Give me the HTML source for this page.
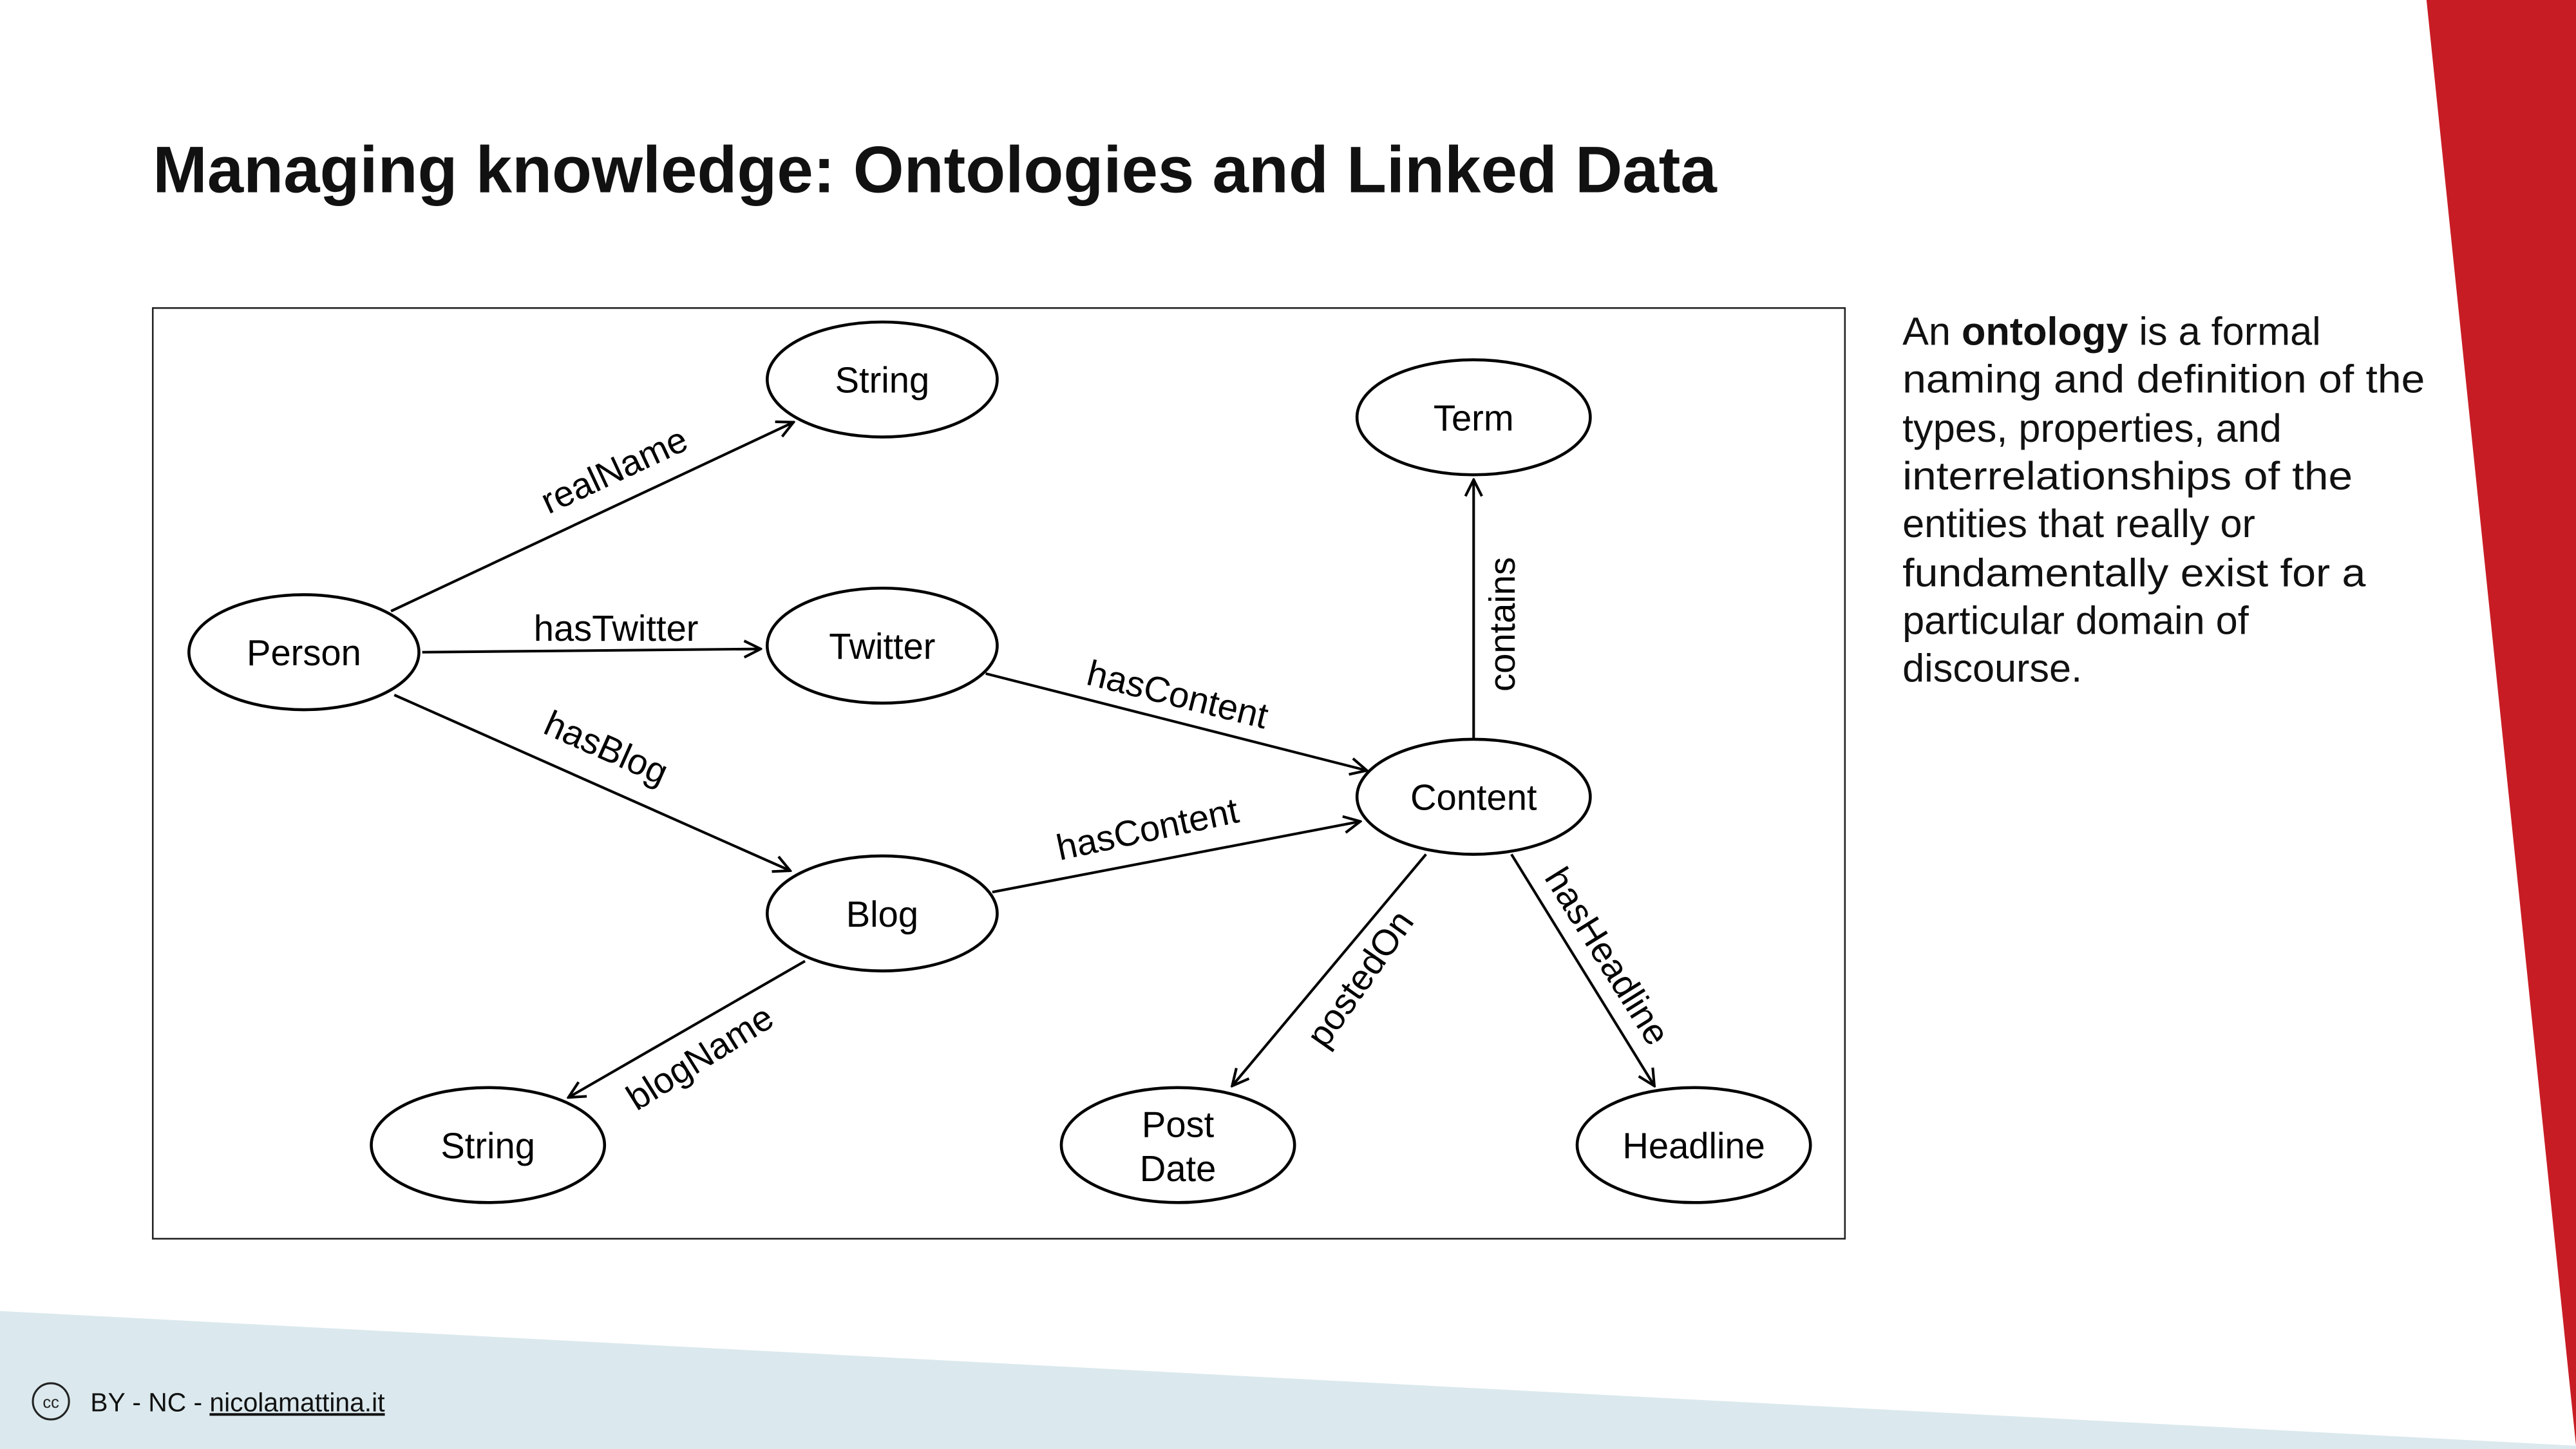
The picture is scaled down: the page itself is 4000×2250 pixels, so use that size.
<!DOCTYPE html>
<html><head><meta charset="utf-8"><style>html,body{margin:0;padding:0;background:#fff}svg{display:block}</style></head>
<body>
<svg width="4000" height="2250" viewBox="0 0 1568 882" preserveAspectRatio="none" xmlns="http://www.w3.org/2000/svg" font-family="Liberation Sans, sans-serif">
<defs><marker id="a" markerWidth="12" markerHeight="12" refX="11" refY="6" orient="auto" markerUnits="userSpaceOnUse"><path d="M1,1 L11,6 L1,11" fill="none" stroke="#000" stroke-width="1.6"/></marker></defs>
<rect width="1568" height="882" fill="#fff"/>
<polygon points="0,798 1568,880 1568,882 0,882" fill="#dbe9ee"/>
<polygon points="1477,0 1568,0 1568,880" fill="#c81c24"/>
<text x="93" y="117" font-size="40" font-weight="bold" textLength="952" lengthAdjust="spacingAndGlyphs" fill="#111">Managing knowledge: Ontologies and Linked Data</text>
<g font-size="24" fill="#111">
<text x="1158" y="210">An <tspan font-weight="bold">ontology</tspan> is a formal</text>
<text x="1158" y="239" textLength="318" lengthAdjust="spacingAndGlyphs">naming and definition of the</text>
<text x="1158" y="269">types, properties, and</text>
<text x="1158" y="298" textLength="274" lengthAdjust="spacingAndGlyphs">interrelationships of the</text>
<text x="1158" y="327">entities that really or</text>
<text x="1158" y="357" textLength="282" lengthAdjust="spacingAndGlyphs">fundamentally exist for a</text>
<text x="1158" y="386">particular domain of</text>
<text x="1158" y="415">discourse.</text>
</g>
<rect x="93" y="187.5" width="1030" height="566.5" fill="#fff" stroke="#222" stroke-width="1"/>
<g fill="none" stroke="#000" stroke-width="1.8">
<ellipse cx="185" cy="397" rx="70" ry="35"/>
<ellipse cx="537" cy="231" rx="70" ry="35"/>
<ellipse cx="537" cy="393" rx="70" ry="35"/>
<ellipse cx="897" cy="254" rx="71" ry="35"/>
<ellipse cx="897" cy="485" rx="71" ry="35"/>
<ellipse cx="537" cy="556" rx="70" ry="35"/>
<ellipse cx="297" cy="697" rx="71" ry="35"/>
<ellipse cx="717" cy="697" rx="71" ry="35"/>
<ellipse cx="1031" cy="697" rx="71" ry="35"/>
</g>
<g stroke="#000" stroke-width="1.6" marker-end="url(#a)">
<line x1="238" y1="372" x2="483" y2="257"/>
<line x1="257" y1="397" x2="463" y2="395"/>
<line x1="240" y1="423" x2="481" y2="530"/>
<line x1="600" y1="410" x2="832" y2="469"/>
<line x1="604" y1="543" x2="828" y2="500"/>
<line x1="897" y1="450" x2="897" y2="292"/>
<line x1="490" y1="585" x2="346" y2="668"/>
<line x1="868" y1="520" x2="750" y2="661"/>
<line x1="920" y1="520" x2="1007" y2="661"/>
</g>
<g font-size="22" fill="#000" text-anchor="middle">
<text x="185" y="405">Person</text>
<text x="537" y="239">String</text>
<text x="537" y="401">Twitter</text>
<text x="897" y="262">Term</text>
<text x="897" y="493">Content</text>
<text x="537" y="564">Blog</text>
<text x="297" y="705">String</text>
<text x="717" y="692">Post</text>
<text x="717" y="719">Date</text>
<text x="1031" y="705">Headline</text>
</g>
<g font-size="22" fill="#000" text-anchor="middle">
<text transform="translate(377,293) rotate(-25)">realName</text>
<text x="375" y="390">hasTwitter</text>
<text transform="translate(366,462) rotate(24)">hasBlog</text>
<text transform="translate(715,430) rotate(14)">hasContent</text>
<text transform="translate(700,512) rotate(-12)">hasContent</text>
<text transform="translate(922,380) rotate(-90)">contains</text>
<text transform="translate(430,650) rotate(-32)">blogName</text>
<text transform="translate(834,600) rotate(-55)">postedOn</text>
<text transform="translate(972,586) rotate(58)">hasHeadline</text>
</g>
<circle cx="31" cy="853" r="11" fill="none" stroke="#222" stroke-width="1.2"/>
<text x="31" y="857" font-size="10" text-anchor="middle" fill="#222">cc</text>
<text x="55" y="859" font-size="16" fill="#111">BY - NC - <tspan text-decoration="underline">nicolamattina.it</tspan></text>
</svg>
</body></html>
